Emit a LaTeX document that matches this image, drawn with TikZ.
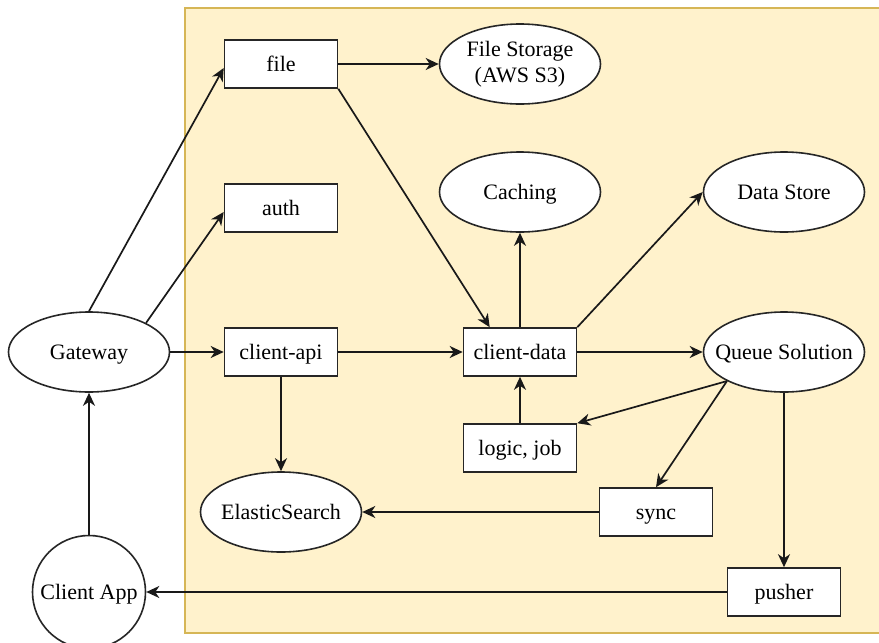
\documentclass[tikz,border=0pt]{standalone}
\usepackage{fontspec}
\setmainfont{Liberation Serif}
\usetikzlibrary{shapes.geometric,arrows.meta,calc}
\newcommand{\zw}[1]{\makebox[0pt]{#1}}
\definecolor{bgfill}{HTML}{FFF2CC}
\definecolor{bgline}{HTML}{D6B656}
\begin{document}
\begin{tikzpicture}[x=1pt,y=-1pt,
  font=\fontsize{22}{25.5}\selectfont,
  boxnode/.style={draw=black!85, line width=1.6pt, fill=white, rectangle, minimum width=113pt, minimum height=48pt, inner sep=0pt, text height=14pt, text depth=0pt},
  ellnode/.style={draw=black!85, line width=1.6pt, fill=white, ellipse, minimum width=161pt, minimum height=80pt, inner sep=0pt, align=center},
  onel/.style={text height=14pt, text depth=0pt},
  circnode/.style={draw=black!85, line width=1.6pt, fill=white, circle, minimum size=113pt, inner sep=0pt, text height=14pt, text depth=0pt},
  arr/.style={-{Stealth[length=13pt,width=12pt,inset=4pt]}, line width=1.7pt, draw=black!90}
]
\clip (0,0) rectangle (879,643);
\fill[white] (0,0) rectangle (879,643);
\node[draw=bgline, fill=bgfill, line width=1.5pt, rectangle, minimum width=700pt, minimum height=625pt, anchor=north west, inner sep=0pt] (bg) at (184,7) {};

\node[boxnode] (file) at (281,64) {file};
\node[boxnode] (auth) at (281,208) {auth};
\node[boxnode] (capi) at (281,352) {client-api};
\node[boxnode] (cdata) at (520,352) {client-data};
\node[boxnode] (logic) at (520,448) {logic, job};
\node[boxnode] (sync) at (656,512) {sync};
\node[boxnode] (pusher) at (784,592) {pusher};

\node[ellnode, onel] (gw) at (89,352) {\zw{Gateway}};
\node[ellnode, onel] (es) at (281,512) {\zw{ElasticSearch}};
\node[ellnode] (fs) at (520,64) {\zw{File Storage}\\\zw{(AWS S3)}};
\node[ellnode, onel] (cach) at (520,192) {\zw{Caching}};
\node[ellnode, onel] (ds) at (784,192) {\zw{Data Store}};
\node[ellnode, onel] (qs) at (784,352) {\zw{Queue Solution}};
\node[circnode] (capp) at (89,592) {\zw{Client App}};

\draw[arr] (gw.north) -- ($(file.west)+(0,4)$);
\draw[arr] (gw.27) -- ($(auth.west)+(0,4)$);
\draw[arr] (gw.east) -- (capi.west);
\draw[arr] (capp.north) -- (gw.south);
\draw[arr] (file.east) -- (fs.west);
\draw[arr] (file.south east) -- ($(cdata.north west)+(27,0)$);
\draw[arr] (cdata.north) -- (cach.south);
\draw[arr] (cdata.north east) -- (ds.west);
\draw[arr] (capi.east) -- (cdata.west);
\draw[arr] (capi.south) -- (es.north);
\draw[arr] (cdata.east) -- (qs.west);
\draw[arr] (logic.north) -- (cdata.south);
\draw[arr] (qs.207) -- (logic.north east);
\draw[arr] (qs.207) -- (sync.north);
\draw[arr] (qs.south) -- (pusher.north);
\draw[arr] (sync.west) -- (es.east);
\draw[arr] (pusher.west) -- (capp.east);
\end{tikzpicture}
\end{document}
